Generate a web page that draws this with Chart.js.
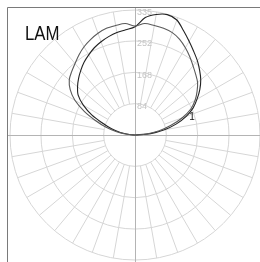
<!DOCTYPE html>
<html>
<head>
<meta charset="utf-8">
<script src="https://cdn.jsdelivr.net/npm/chart.js@4/dist/chart.umd.min.js"></script>
<style>
  html, body { margin: 0; padding: 0; background: #fff; }
  #wrap { position: relative; width: 260px; height: 262px; overflow: hidden; }
  #title {
    position: absolute; left: 25px; top: 22px;
    font-family: "Liberation Sans", Arial, sans-serif;
    font-size: 20px; color: #111;
    transform: scaleX(0.84); transform-origin: left top;
  }
</style>
</head>
<body>
<div id="wrap">
  <canvas id="polar" width="260" height="262"></canvas>
  <div id="title">LAM</div>
</div>
<script>
// angle from vertical (deg), left side negative
const angleDeg = [-90, -85, -80, -75, -70, -65, -60, -55, -50, -45, -40, -35, -30, -25, -20, -15, -10, -5,
  0, 5, 10, 15, 20, 25, 30, 35, 40, 45, 50, 55, 60, 65, 70, 75, 80, 85, 90];

// grey curve (outer on the left)
const curveA = [0, 22, 50, 80, 112, 150, 186, 212, 230, 240, 250, 262, 273, 282, 290, 296, 298, 300,
  292, 300, 298, 296, 292, 283, 270, 256, 242, 230, 219, 203, 186, 165, 135, 100, 66, 32, 0];

// black curve (peak on the right)
const curveB = [0, 15, 40, 65, 92, 128, 160, 186, 201, 214, 226, 238, 248, 258, 266, 273, 279, 283,
  290, 316, 328, 334, 328, 308, 290, 274, 260, 245, 230, 212, 192, 172, 146, 115, 80, 42, 0];

const ringTicks = [0, 84, 168, 252, 335];
const curveLabel = '1';

const step = 5;
const count = 360 / step;
const labels = [];
for (let i = 0; i < count; i += 1) {
  labels.push(i * step + '°');
}

const toRadar = (arr) => {
  const out = new Array(count).fill(0);
  angleDeg.forEach((deg, k) => {
    out[((deg / step) + count) % count] = arr[k];
  });
  return out;
};

const gridPlugin = {
  id: 'gridExtras',
  beforeDatasetsDraw(chart) {
    const ctx = chart.ctx;
    const r = chart.scales.r;
    const inner = r.getDistanceFromCenterForValue(ringTicks[1]);
    const outer = r.drawingArea;
    ctx.save();
    // radial lines every 10 deg, starting at the first ring
    ctx.strokeStyle = '#d6d6d6';
    ctx.lineWidth = 1;
    for (let i = 0; i < count; i += 2) {
      if ((i * step) % 90 === 0) continue;
      const a = r.getPointPosition(i, inner);
      const b = r.getPointPosition(i, outer);
      ctx.beginPath();
      ctx.moveTo(a.x, a.y);
      ctx.lineTo(b.x, b.y);
      ctx.stroke();
    }
    // main axes
    ctx.strokeStyle = '#b4b4b4';
    ctx.beginPath();
    ctx.moveTo(7, r.yCenter + 0.5);
    ctx.lineTo(chart.width, r.yCenter + 0.5);
    ctx.moveTo(r.xCenter + 0.5, 7);
    ctx.lineTo(r.xCenter + 0.5, chart.height);
    ctx.stroke();
    // ring values
    ctx.fillStyle = '#c4c4c4';
    ctx.font = '9px "Liberation Sans", Arial, sans-serif';
    ctx.textAlign = 'left';
    ctx.textBaseline = 'middle';
    ringTicks.slice(1).forEach((v) => {
      const d = r.getDistanceFromCenterForValue(v);
      ctx.fillText(String(v), r.xCenter + 2, r.yCenter - d + 3);
    });
    ctx.restore();
  },
  afterDatasetsDraw(chart) {
    const ctx = chart.ctx;
    const r = chart.scales.r;
    const p = r.getPointPositionForValue(14.6, 160);
    ctx.save();
    ctx.fillStyle = '#111';
    ctx.font = '10px "Liberation Sans", Arial, sans-serif';
    ctx.textAlign = 'center';
    ctx.textBaseline = 'middle';
    ctx.fillText(curveLabel, p.x, p.y);
    ctx.restore();
  },
  afterDraw(chart) {
    const ctx = chart.ctx;
    ctx.save();
    ctx.strokeStyle = '#7a7a7a';
    ctx.lineWidth = 1;
    ctx.beginPath();
    ctx.moveTo(7.5, chart.height);
    ctx.lineTo(7.5, 7.5);
    ctx.lineTo(chart.width, 7.5);
    ctx.stroke();
    ctx.restore();
  },
};

const ctx = document.getElementById('polar').getContext('2d');
const polarChart = new Chart(ctx, {
  type: 'radar',
  data: {
    labels: labels,
    datasets: [{
      label: 'C0-C180 a',
      data: toRadar(curveA),
      borderColor: '#5a5a5a',
      borderWidth: 1.1,
      pointRadius: 0,
      fill: false,
      tension: 0.3,
    }, {
      label: 'C0-C180 b',
      data: toRadar(curveB),
      borderColor: '#222222',
      borderWidth: 1.1,
      pointRadius: 0,
      fill: false,
      tension: 0.3,
    }],
  },
  options: {
    responsive: false,
    animation: false,
    devicePixelRatio: 1,
    layout: { padding: { left: 10, top: 10, right: 0, bottom: 2 } },
    plugins: {
      legend: { display: false },
      tooltip: { enabled: false },
    },
    scales: {
      r: {
        min: 0,
        max: 335,
        afterBuildTicks: (scale) => {
          scale.ticks = ringTicks.map((v) => ({ value: v }));
        },
        ticks: { display: false },
        pointLabels: { display: false },
        angleLines: { display: false },
        grid: { circular: true, color: '#d6d6d6', lineWidth: 1 },
      },
    },
  },
  plugins: [gridPlugin],
});
</script>
</body>
</html>
